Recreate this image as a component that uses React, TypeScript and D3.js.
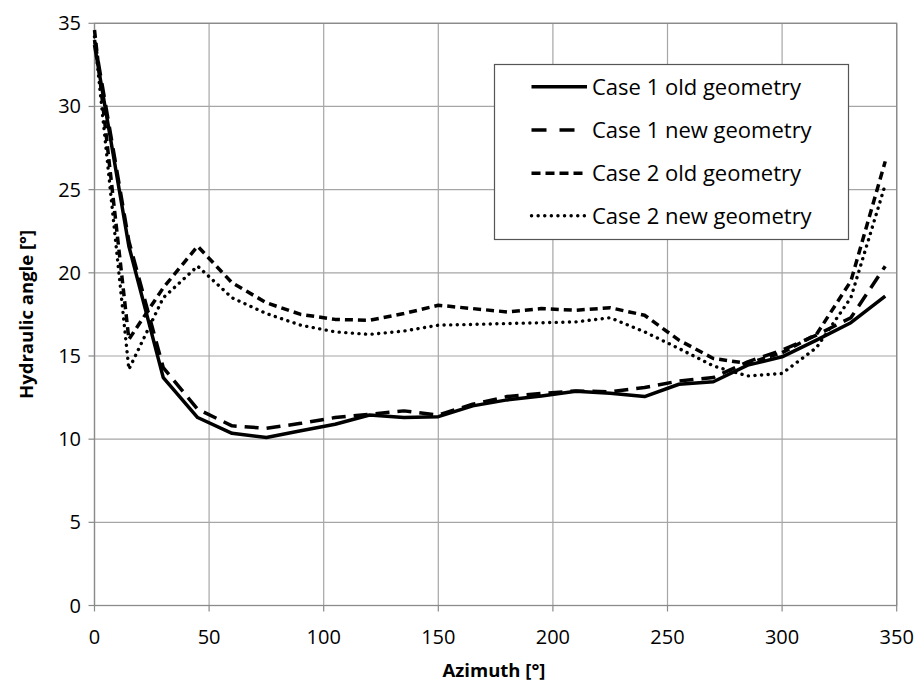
import React from "react";
import * as d3 from "d3";

const azimuth = [0, 15, 30, 45, 60, 75, 90, 105, 120, 135, 150, 165, 180, 195, 210, 225, 240, 255, 270, 285, 300, 315, 330, 345];
const case1Old = [33.7, 21.6, 13.7, 11.3, 10.35, 10.1, 10.5, 10.9, 11.45, 11.3, 11.35, 12.0, 12.36, 12.6, 12.88, 12.76, 12.56, 13.3, 13.45, 14.45, 14.95, 15.95, 17.0, 18.6];
const case1New = [34.0, 21.9, 14.3, 11.8, 10.8, 10.65, 10.95, 11.3, 11.5, 11.7, 11.45, 12.1, 12.56, 12.75, 12.9, 12.85, 13.1, 13.5, 13.7, 14.65, 15.35, 16.25, 17.3, 20.4];
const case2Old = [34.6, 16.0, 19.1, 21.6, 19.4, 18.2, 17.5, 17.2, 17.15, 17.55, 18.05, 17.85, 17.65, 17.85, 17.75, 17.9, 17.45, 15.95, 14.85, 14.55, 15.2, 16.3, 19.5, 26.7];
const case2New = [34.2, 14.2, 18.5, 20.4, 18.5, 17.55, 16.85, 16.45, 16.3, 16.5, 16.85, 16.9, 16.95, 17.0, 17.05, 17.3, 16.45, 15.45, 14.4, 13.8, 13.95, 15.5, 18.5, 25.3];

const seriesNames = ["Case 1 old geometry", "Case 1 new geometry", "Case 2 old geometry", "Case 2 new geometry"];
const xTicks = [0, 50, 100, 150, 200, 250, 300, 350];
const yTicks = [0, 5, 10, 15, 20, 25, 30, 35];
const xTitle = "Azimuth [°]";
const yTitle = "Hydraulic angle [°]";

const FONT = "'Open Sans', sans-serif";

const styles = [
  { dash: "none", width: 3.5, cap: "butt" },
  { dash: "14,8", width: 3.5, cap: "butt" },
  { dash: "8,5", width: 3.5, cap: "butt" },
  { dash: "0.1,6.5", width: 3.4, cap: "round" },
];

export default function App() {
  const W = 922, H = 686;
  const x = d3.scaleLinear().domain([0, 350]).range([94.5, 896.7]);
  const y = d3.scaleLinear().domain([0, 35]).range([605.5, 23.3]);
  const allSeries = [case1Old, case1New, case2Old, case2New];
  const line = d3.line<number>()
    .x((_, i) => x(azimuth[i]))
    .y((d) => y(d))
    .curve(d3.curveLinear);

  const lg = { x0: 494.5, y0: 64.5, x1: 848.5, y1: 239.5 };
  const rowY = [86.7, 130, 173.3, 215.7];

  return (
    <svg width={W} height={H} style={{ position: "absolute", left: 0, top: 0, background: "#fff" }}>
      <rect x={0} y={0} width={W} height={H} fill="#fff" />
      {xTicks.map((t) => (
        <line key={"gx" + t} x1={x(t)} x2={x(t)} y1={y(35)} y2={y(0)} stroke="#a6a6a6" strokeWidth={1.2} />
      ))}
      {yTicks.map((t) => (
        <line key={"gy" + t} x1={x(0)} x2={x(350)} y1={y(t)} y2={y(t)} stroke="#a6a6a6" strokeWidth={1.2} />
      ))}
      <rect x={x(0)} y={y(35)} width={x(350) - x(0)} height={y(0) - y(35)} fill="none" stroke="#8a8a8a" strokeWidth={1.3} />
      {xTicks.map((t) => (
        <line key={"tx" + t} x1={x(t)} x2={x(t)} y1={y(0)} y2={y(0) + 6} stroke="#8a8a8a" strokeWidth={1.2} />
      ))}
      {yTicks.map((t) => (
        <line key={"ty" + t} x1={x(0) - 6} x2={x(0)} y1={y(t)} y2={y(t)} stroke="#8a8a8a" strokeWidth={1.2} />
      ))}
      {xTicks.map((t) => (
        <text key={"lx" + t} x={x(t)} y={644} textAnchor="middle" fontFamily={FONT} fontSize={20} fill="#000">{t}</text>
      ))}
      {yTicks.map((t) => (
        <text key={"ly" + t} x={81} y={y(t) + 7} textAnchor="end" fontFamily={FONT} fontSize={20} fill="#000">{t}</text>
      ))}
      <text x={494} y={677} textAnchor="middle" fontFamily={FONT} fontSize={18.5} fontWeight="bold" fill="#000">{xTitle}</text>
      <text transform={`translate(33,${y(17.5)}) rotate(-90)`} textAnchor="middle" fontFamily={FONT} fontSize={18.5} fontWeight="bold" fill="#000">{yTitle}</text>
      {allSeries.map((s, i) => (
        <path key={"s" + i} d={line(s) || ""} fill="none" stroke="#000" strokeWidth={styles[i].width}
          strokeDasharray={styles[i].dash} strokeLinecap={styles[i].cap as any} strokeLinejoin="round" />
      ))}
      <rect x={lg.x0} y={lg.y0} width={lg.x1 - lg.x0} height={lg.y1 - lg.y0} fill="#fff" stroke="#555" strokeWidth={1.2} />
      {seriesNames.map((n, i) => (
        <g key={"lg" + i}>
          <line x1={531.5} x2={587} y1={rowY[i]} y2={rowY[i]} stroke="#000" strokeWidth={styles[i].width}
            strokeDasharray={i === 1 ? "15,13" : i === 2 ? "9,5" : styles[i].dash} strokeLinecap={styles[i].cap as any} />
          <text x={592} y={rowY[i] + 8} fontFamily={FONT} fontSize={22} fill="#000">{n}</text>
        </g>
      ))}
    </svg>
  );
}
